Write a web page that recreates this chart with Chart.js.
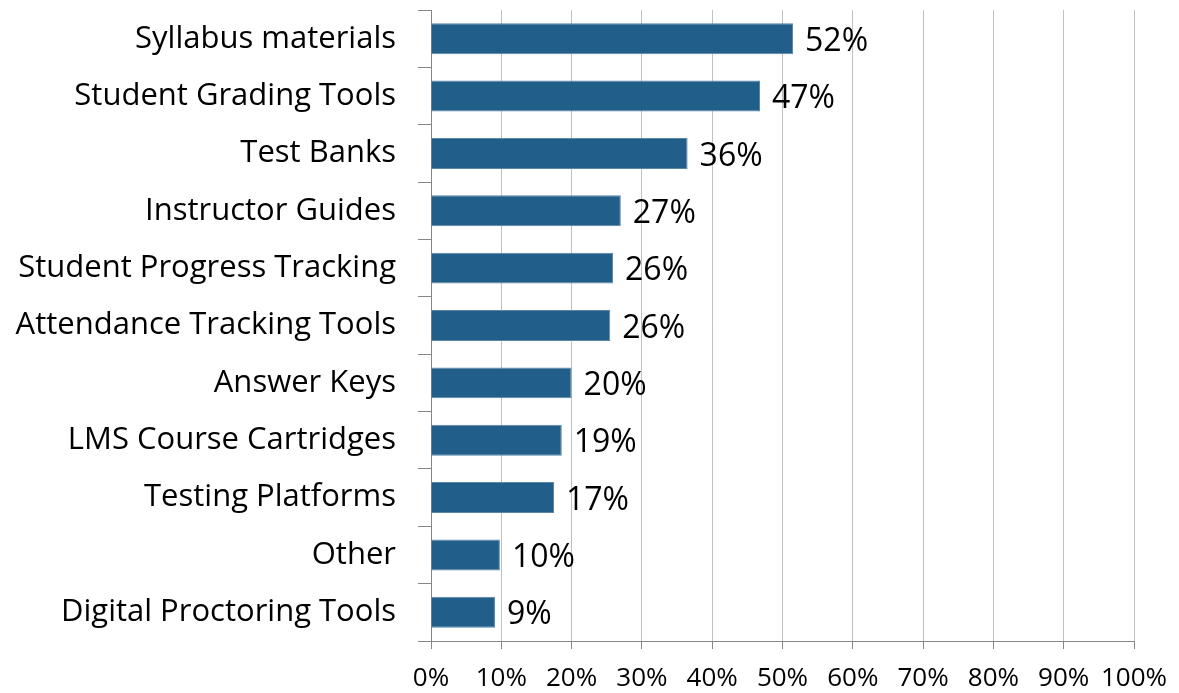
<!DOCTYPE html>
<html>
<head>
<meta charset="utf-8">
<script src="https://cdn.jsdelivr.net/npm/chart.js@4/dist/chart.umd.min.js"></script>
<style>
  html, body { margin: 0; padding: 0; background: #fff; }
  #wrap { width: 1179px; height: 693px; position: relative; }
</style>
</head>
<body>
<div id="wrap"><canvas id="chart"></canvas></div>
<script>
// categories, top to bottom
const categories = [
    'Syllabus materials',
    'Student Grading Tools',
    'Test Banks',
    'Instructor Guides',
    'Student Progress Tracking',
    'Attendance Tracking Tools',
    'Answer Keys',
    'LMS Course Cartridges',
    'Testing Platforms',
    'Other',
    'Digital Proctoring Tools'
];

// share of respondents (%)
const shares = [51.5, 46.8, 36.5, 27, 25.9, 25.5, 20, 18.6, 17.5, 9.8, 9.1];
const shareLabels = ['52%', '47%', '36%', '27%', '26%', '26%', '20%', '19%', '17%', '10%', '9%'];

const FONT = '"Open Sans", Lato, sans-serif';
const BAR_COLOR = '#215f8a';

// 막대 끝에 값 라벨 그리기
const valueLabels = {
    id: 'valueLabels',
    afterDatasetsDraw(chart) {
        const { ctx } = chart;
        const meta = chart.getDatasetMeta(0);
        ctx.save();
        ctx.font = '32px ' + FONT;
        ctx.fillStyle = '#000';
        ctx.textBaseline = 'middle';
        ctx.textAlign = 'left';
        meta.data.forEach((bar, i) => {
            ctx.fillText(shareLabels[i], bar.x + 12, bar.y + 3);
        });
        ctx.restore();
    }
};

new Chart(document.getElementById('chart'), {
    type: 'bar',
    data: {
        labels: categories,
        datasets: [{
            data: shares,
            backgroundColor: BAR_COLOR,
            borderColor: '#5b86a6',
            borderWidth: 1,
            barPercentage: 0.54,
            categoryPercentage: 1
        }]
    },
    options: {
        indexAxis: 'y',
        responsive: true,
        maintainAspectRatio: false,
        animation: false,
        layout: { padding: { top: 10, right: 45, left: 0, bottom: 0 } },
        plugins: {
            legend: { display: false },
            tooltip: { enabled: false }
        },
        scales: {
            x: {
                min: 0,
                max: 100,
                ticks: {
                    stepSize: 10,
                    autoSkip: false,
                    color: '#000',
                    font: { family: FONT, size: 26 },
                    padding: 14,
                    maxRotation: 0,
                    callback: v => v + '%'
                },
                grid: {
                    color: '#c0c0c0',
                    lineWidth: 1,
                    drawTicks: true,
                    tickLength: 8,
                    tickColor: '#868686'
                },
                border: { color: '#868686', width: 1 },
                afterFit: s => {
                    s.height = 52;
                    s.paddingLeft = 0;
                    s.paddingRight = 0;
                }
            },
            y: {
                ticks: {
                    color: '#000',
                    font: { family: FONT, size: 31 },
                    padding: 22,
                    autoSkip: false
                },
                grid: {
                    display: true,
                    offset: true,
                    drawOnChartArea: false,
                    tickLength: 13,
                    tickColor: '#868686'
                },
                border: { color: '#868686', width: 1 },
                afterFit: s => {
                    s.width = 431;
                    s.paddingTop = 0;
                    s.paddingBottom = 0;
                }
            }
        }
    },
    plugins: [valueLabels]
});
</script>
</body>
</html>
